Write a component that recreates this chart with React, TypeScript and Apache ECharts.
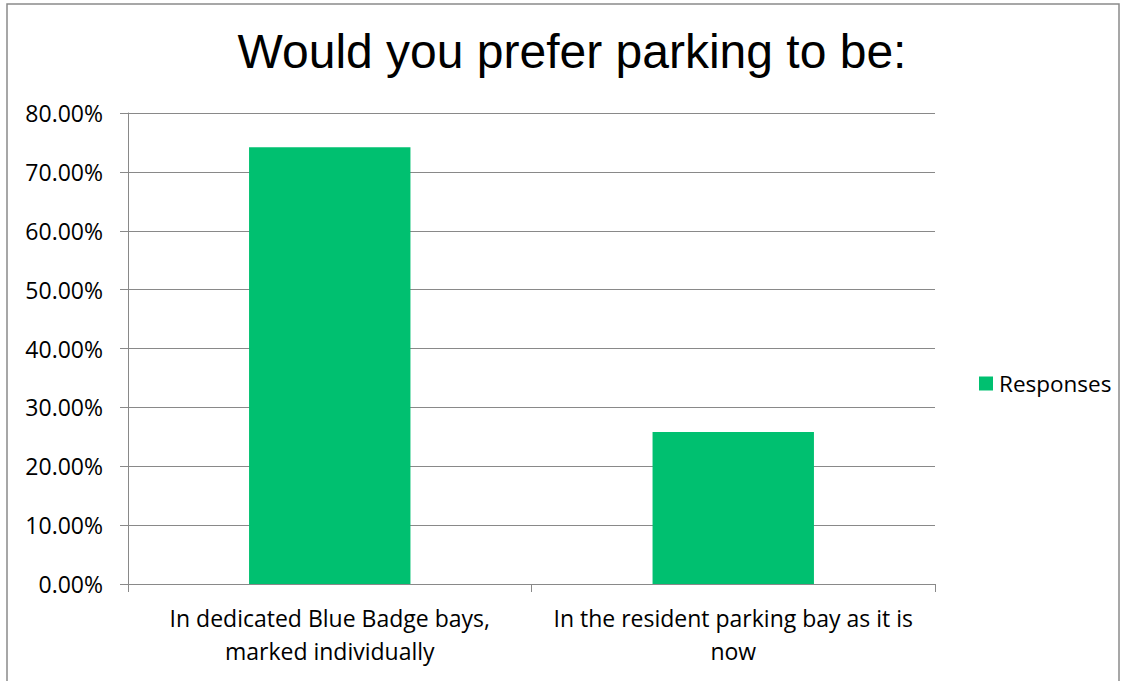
import React, { useEffect, useRef } from "react";
import * as echarts from "echarts";

const titleText = "Would you prefer parking to be:";
const categories = [
  "In dedicated Blue Badge bays,\nmarked individually",
  "In the resident parking bay as it is\nnow",
];
const seriesName = "Responses";
const responses = [0.742, 0.258];
const yTicks = { min: 0, max: 0.8, interval: 0.1 };

export default function App() {
  const ref = useRef<HTMLDivElement>(null);
  useEffect(() => {
    const chart = echarts.init(ref.current!, null, { renderer: "svg" });
    const axisFont = { fontFamily: "Open Sans", fontSize: 23, color: "#000" };
    chart.setOption({
      animation: false,
      backgroundColor: "#fff",
      title: {
        text: titleText,
        left: 567,
        textAlign: "center",
        top: 22,
        textStyle: {
          fontFamily: "Liberation Sans",
          fontSize: 48,
          fontWeight: "normal",
          color: "#000",
        },
      },
      grid: { left: 128, right: 188, top: 113, bottom: 97, containLabel: false },
      legend: {
        data: [seriesName],
        left: 979,
        top: 372,
        padding: 0,
        icon: "rect",
        itemWidth: 14,
        itemHeight: 14,
        itemGap: 6,
        textStyle: { ...axisFont, fontSize: 22.5, padding: [0, 0, 0, 1] },
      },
      xAxis: {
        type: "category",
        data: categories,
        axisLine: { lineStyle: { color: "#898989", width: 1 } },
        axisTick: { show: true, length: 8, lineStyle: { color: "#898989" } },
        axisLabel: { ...axisFont, margin: 17, lineHeight: 33, interval: 0 },
      },
      yAxis: {
        type: "value",
        min: yTicks.min,
        max: yTicks.max,
        interval: yTicks.interval,
        axisLine: { show: true, lineStyle: { color: "#898989", width: 1 } },
        axisTick: { show: true, length: 8, lineStyle: { color: "#898989" } },
        splitLine: { lineStyle: { color: "#898989", width: 1 } },
        axisLabel: {
          ...axisFont,
          margin: 25,
          formatter: (v: number) => (v * 100).toFixed(2) + "%",
        },
      },
      series: [
        {
          name: seriesName,
          type: "bar",
          data: responses,
          barWidth: "40%",
          itemStyle: { color: "#00C070" },
        },
      ],
      graphic: [
        {
          type: "rect",
          shape: { x: 7, y: 4, width: 1112, height: 700 },
          style: { fill: "none", stroke: "#8a8a8a", lineWidth: 1.5 },
          silent: true,
        },
      ],
    });
    return () => chart.dispose();
  }, []);
  return (
    <div
      ref={ref}
      style={{ position: "fixed", left: 0, top: 0, width: 1123, height: 681 }}
    />
  );
}
